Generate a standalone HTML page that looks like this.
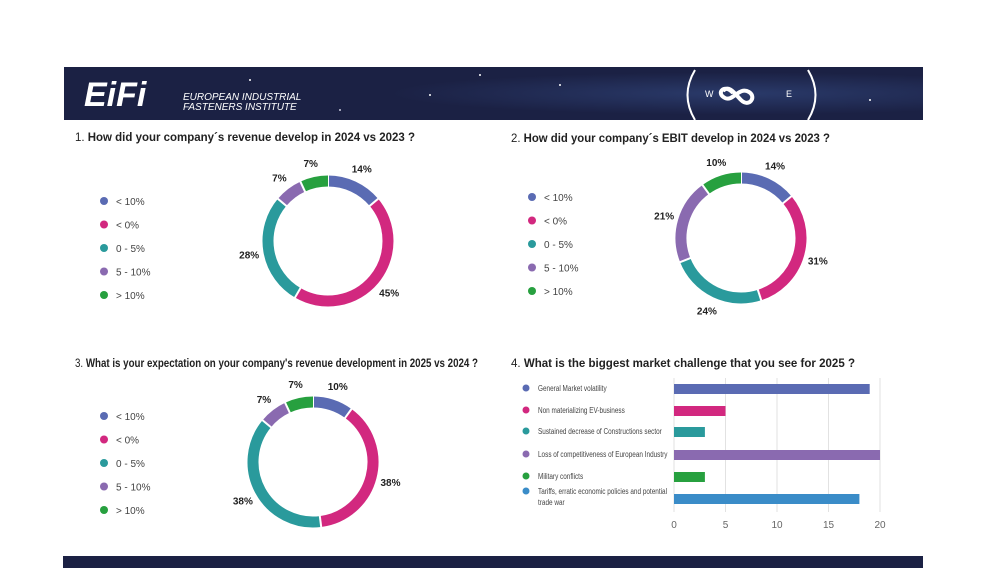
<!DOCTYPE html>
<html><head><meta charset="utf-8">
<style>
body{margin:0;width:1005px;height:579px;background:#fff;overflow:hidden;font-family:"Liberation Sans",sans-serif;}
svg{position:absolute;left:0;top:0}
</style></head>
<body>
<svg id="s" width="1005" height="579">
<defs><radialGradient id="g" cx="0.78" cy="0.5" r="0.4"><stop offset="0" stop-color="#2a3a6a"/><stop offset="1" stop-color="#1b2144"/></radialGradient></defs>
<g>
<rect x="64" y="67" width="859" height="53" fill="url(#g)"/>
<circle cx="250" cy="80" r="1" fill="#fff"/><circle cx="430" cy="95" r="1" fill="#fff"/><circle cx="340" cy="110" r="1" fill="#ccd"/><circle cx="560" cy="85" r="1" fill="#fff"/><circle cx="870" cy="100" r="1" fill="#fff"/><circle cx="480" cy="75" r="1" fill="#fff"/>
<text x="84" y="106" font-size="34" font-weight="bold" font-style="italic" fill="#fff">EiFi</text>
<text x="183" y="100" font-size="10" font-style="italic" fill="#fff">EUROPEAN INDUSTRIAL</text>
<text x="183" y="110" font-size="10" font-style="italic" fill="#fff">FASTENERS INSTITUTE</text>
<g fill="none" stroke="#fff">
<path d="M695 70 Q680 95 695 120" stroke-width="2"/><path d="M808 70 Q823 95 808 120" stroke-width="2"/>
<text x="705" y="97" font-size="9" fill="#fff" stroke="none">W</text><text x="786" y="97" font-size="9" fill="#fff" stroke="none">E</text>
<path d="M733 93 c-8 -10 -18 0 -8 5 c8 4 14 -12 24 -6 c8 5 0 16 -8 8 c-6 -6 -12 -16 -18 -9" stroke-width="4"/>
</g>
</g>
<rect x="63" y="556" width="860" height="12" fill="#1b2144"/>
<g font-size="12" fill="#222">
<text x="75" y="141" textLength="340" lengthAdjust="spacingAndGlyphs">1. <tspan font-weight="bold">How did your company´s revenue develop in 2024 vs 2023 ?</tspan></text>
<text x="511" y="142" textLength="319" lengthAdjust="spacingAndGlyphs">2. <tspan font-weight="bold">How did your company´s EBIT develop in 2024 vs 2023 ?</tspan></text>
<text x="75" y="367" textLength="403" lengthAdjust="spacingAndGlyphs">3. <tspan font-weight="bold">What is your expectation on your company's revenue development in 2025 vs 2024 ?</tspan></text>
<text x="511" y="367" textLength="344" lengthAdjust="spacingAndGlyphs">4. <tspan font-weight="bold">What is the biggest market challenge that you see for 2025 ?</tspan></text>
</g>
<g id="charts"></g>
</svg>
<script>
const donutLabels = ["< 10%","< 0%","0 - 5%","5 - 10%","> 10%"];
const colors = ["#5a6bb3","#d2287f","#2a9a9c","#8a6ab0","#27a03f","#3a8cc8"];
const q1Values = [14,45,28,7,7];
const q2Values = [14,31,24,21,10];
const q3Values = [10,38,38,7,7];
const barCategories = ["General Market volatility","Non materializing EV-business","Sustained decrease of Constructions sector","Loss of competitiveness of European Industry","Military conflicts","Tariffs, erratic economic policies and potential trade war"];
const barValues = [19,5,3,20,3,18];
const xTicks = [0,5,10,15,20];

const NS="http://www.w3.org/2000/svg";
const root=document.getElementById('charts');
function mk(tag,attrs,parent){const e=document.createElementNS(NS,tag);for(const k in attrs)e.setAttribute(k,attrs[k]);(parent||root).appendChild(e);return e;}
function squeeze(t,f){const L=t.getComputedTextLength();t.setAttribute('textLength',L*f);t.setAttribute('lengthAdjust','spacingAndGlyphs');}

function donut(name,cx,cy,values,lx,ly){
  const g=mk('g',{});
  
  
  const R=60,W=11,tot=values.reduce((a,b)=>a+b,0);
  let a0=0;
  values.forEach((v,i)=>{
    const a1=a0+v/tot*2*Math.PI;
    const p=t=>[cx+R*Math.sin(t),cy-R*Math.cos(t)];
    const [x0,y0]=p(a0),[x1,y1]=p(a1);
    const path=mk('path',{d:`M${x0} ${y0} A${R} ${R} 0 ${a1-a0>Math.PI?1:0} 1 ${x1} ${y1}`,fill:'none',stroke:colors[i],'stroke-width':W},g);
    
    
    mk('line',{x1:cx+(R-8)*Math.sin(a0),y1:cy-(R-8)*Math.cos(a0),x2:cx+(R+8)*Math.sin(a0),y2:cy-(R+8)*Math.cos(a0),stroke:'#fff','stroke-width':2},g);
    const am=(a0+a1)/2,LR=80;
    const t=mk('text',{x:cx+LR*Math.sin(am),y:cy-LR*Math.cos(am)+4,'text-anchor':'middle','font-size':10,'font-weight':'bold',fill:'#222'},g);
    t.textContent=v+'%';
    
    
    a0=a1;
  });
  donutLabels.forEach((l,i)=>{
    const c=mk('circle',{cx:lx,cy:ly+i*23.5,r:4,fill:colors[i]},g);
    
    
    const t=mk('text',{x:lx+12,y:ly+i*23.5+4,'font-size':10,fill:'#444'},g);
    t.textContent=l;
    
    
  });
}
donut('donut-q1',328,241,q1Values,104,201);
donut('donut-q2',741,238,q2Values,532,197);
donut('donut-q3',313,462,q3Values,104,416);

const bg=mk('g',{});


const X0=674,X1=880,xs=v=>X0+v/20*(X1-X0);
const rowY=[389,411,432,455,477,499];
xTicks.forEach(v=>{
  mk('line',{x1:xs(v),y1:378,x2:xs(v),y2:512,stroke:'#e2e2e2','stroke-width':1},bg);
  const t=mk('text',{x:xs(v),y:528,'text-anchor':'middle','font-size':10,fill:'#666'},bg);
  t.textContent=v;
  
  
});
barCategories.forEach((c,i)=>{
  const y=rowY[i];
  const r=mk('rect',{x:X0,y:y-5,width:xs(barValues[i])-X0,height:10,fill:colors[i]},bg);
  
  
  const cy=i===5?y-8:y-1;
  const d=mk('circle',{cx:526,cy:cy,r:3.5,fill:colors[i]},bg);
  
  
  const t=mk('text',{x:538,y:cy+3,'font-size':8,fill:'#444'},bg);
  
  
  if(i===5){t.textContent='Tariffs, erratic economic policies and potential';
    const t2=mk('text',{x:538,y:cy+14,'font-size':8,fill:'#444'},bg);t2.textContent='trade war';squeeze(t2,0.8);}
  else t.textContent=c;
  squeeze(t,0.8);
});
</script>
</body></html>
